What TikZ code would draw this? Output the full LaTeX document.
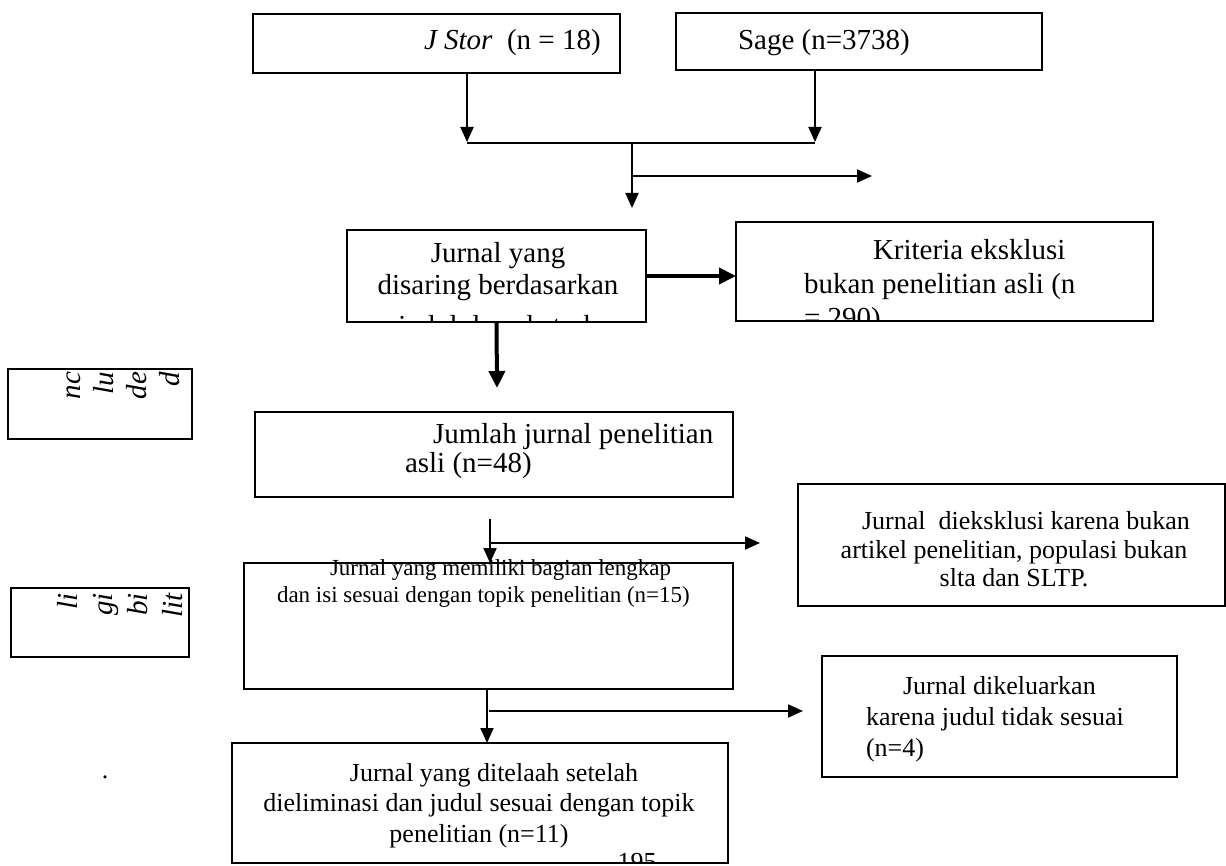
\documentclass[tikz,border=0pt]{standalone}
\usepackage{fontspec}
\setmainfont{Liberation Serif}
\usetikzlibrary{arrows.meta}
\newcommand\fbig{\fontsize{29}{33}\selectfont}
\newcommand\fsml{\fontsize{26}{29}\selectfont}
\begin{document}
\begin{tikzpicture}[x=1pt,y=-1pt,
  box/.style={draw, line width=1.6pt, inner sep=0pt, outer sep=0pt},
  conn/.style={line width=2pt},
  arr/.style={conn, -{Triangle[length=15pt,width=13pt]}},
  thickarr/.style={line width=4pt, -{Triangle[length=17pt,width=16pt]}},
  txt/.style={inner sep=0pt, outer sep=0pt}]
\useasboundingbox (0,0) rectangle (1226,866);
% boxes
\node[box, minimum width=367pt, minimum height=59pt] (jstor) at (436.5,43.5) {};
\node[box, minimum width=366pt, minimum height=57pt] (sage) at (859,41.5) {};
\node[box, minimum width=299pt, minimum height=92pt] (disaring) at (496.5,276) {};
\node[box, minimum width=417pt, minimum height=99pt] (kriteria) at (944.5,271.5) {};
\node[box, minimum width=184pt, minimum height=70pt] (incl) at (100,404) {};
\node[box, minimum width=478pt, minimum height=85pt] (jumlah) at (494,454.5) {};
\node[box, minimum width=427pt, minimum height=122pt] (artikel) at (1011.5,545) {};
\node[box, minimum width=178pt, minimum height=69pt] (elig) at (100,622.5) {};
\node[box, minimum width=489pt, minimum height=126pt] (memiliki) at (488.5,626) {};
\node[box, minimum width=355pt, minimum height=121pt] (dikel) at (999.5,716.5) {};
\node[box, minimum width=496pt, minimum height=120pt] (telaah) at (480,803) {};
% texts
\node[txt, font=\fbig, anchor=west] (jstortxt) at (424,43) {\textit{J Stor}\ \ (n = 18)};
\node[txt, font=\fbig, anchor=west] (sagetxt) at (738,43) {Sage (n=3738)};
\begin{scope}
  \clip (disaring.north west) rectangle (disaring.south east);
  \node[txt, font=\fontsize{29}{32}\selectfont, align=center] (disaringtxt) at (498,292)
    {Jurnal yang\\disaring berdasarkan\\[9pt]judul dan abstrak};
\end{scope}
\begin{scope}
  \clip (kriteria.north west) rectangle (kriteria.south east);
  \node[txt, font=\fontsize{29}{34}\selectfont, align=left, anchor=west] (kriteriatxt) at (804,287)
    {\hspace*{69pt}Kriteria eksklusi\\bukan penelitian asli (n\\= 290)};
\end{scope}
\node[txt, font=\fontsize{29}{29}\selectfont, align=left, anchor=west] (jumlahtxt) at (405,451)
  {\hspace*{28pt}Jumlah jurnal penelitian\\asli (n=48)};
\node[txt, font=\fontsize{29}{33}\selectfont\itshape, rotate=90, align=right, anchor=north east] (incltxt) at (67,372)
  {nc\\lu\\de\\d};
\node[txt, font=\fontsize{29}{35}\selectfont\itshape, rotate=90, align=right, anchor=north east] (eligtxt) at (57,593)
  {li\\gi\\bi\\lit};
\node[txt, font=\fontsize{23}{27}\selectfont, align=left, anchor=west] (memilikitxt) at (277,584)
  {\hspace*{53pt}Jurnal yang memiliki bagian lengkap\\dan isi sesuai dengan topik penelitian (n=15)};
\node[txt, font=\fontsize{26}{28.5}\selectfont, align=center] (artikeltxt) at (1014,549.5)
  {\hspace*{24pt}Jurnal\ \ dieksklusi karena bukan\\artikel penelitian, populasi bukan\\slta dan SLTP.};
\node[txt, font=\fontsize{26}{31}\selectfont, align=left, anchor=west] (dikeltxt) at (866,719)
  {\hspace*{37pt}Jurnal dikeluarkan\\karena judul tidak sesuai\\(n=4)};
\begin{scope}
  \clip (telaah.north west) rectangle (telaah.south east);
  \node[txt, font=\fontsize{26}{30.5}\selectfont, align=center] (telaahtxt) at (479,805.5)
    {\hspace*{30pt}Jurnal yang ditelaah setelah\\dieliminasi dan judul sesuai dengan topik\\penelitian (n=11)};
  \node[txt, font=\fsml, anchor=north] (pagenum) at (637,853) {195};
\end{scope}
\node[txt, font=\fsml] (dot) at (105,777) {.};
% connector points
\coordinate (mL) at (467,142);
\coordinate (mR) at (815,142);
\coordinate (mM) at (632,143);
\coordinate (dTip) at (632,208);
\coordinate (sA) at (632,176);
\coordinate (sB) at (872,176);
\coordinate (d2) at (497,388);
\coordinate (j1) at (490,519);
\coordinate (j2) at (490,543);
\coordinate (j3) at (760,543);
\coordinate (m1) at (487,689);
\coordinate (m2) at (489,711);
\coordinate (m3) at (803,711);
% connectors
\draw[arr] (jstor.south -| mL) -- (mL);
\draw[arr] (sage.south -| mR) -- (mR);
\draw[conn] (mL |- mM) -- (mR |- mM);
\draw[arr] (mM) -- (dTip);
\draw[arr] (sA) -- (sB);
\draw[thickarr] (disaring.east) -- (kriteria.west |- disaring.east);
\draw[thickarr] (disaring.south) -- (d2);
\draw[arr] (j1) -- (j1 |- memiliki.north);
\draw[arr] (j2) -- (j3);
\draw[arr] (memiliki.south -| m1) -- (telaah.north -| m1);
\draw[arr] (m2) -- (m3);
\end{tikzpicture}
\end{document}
